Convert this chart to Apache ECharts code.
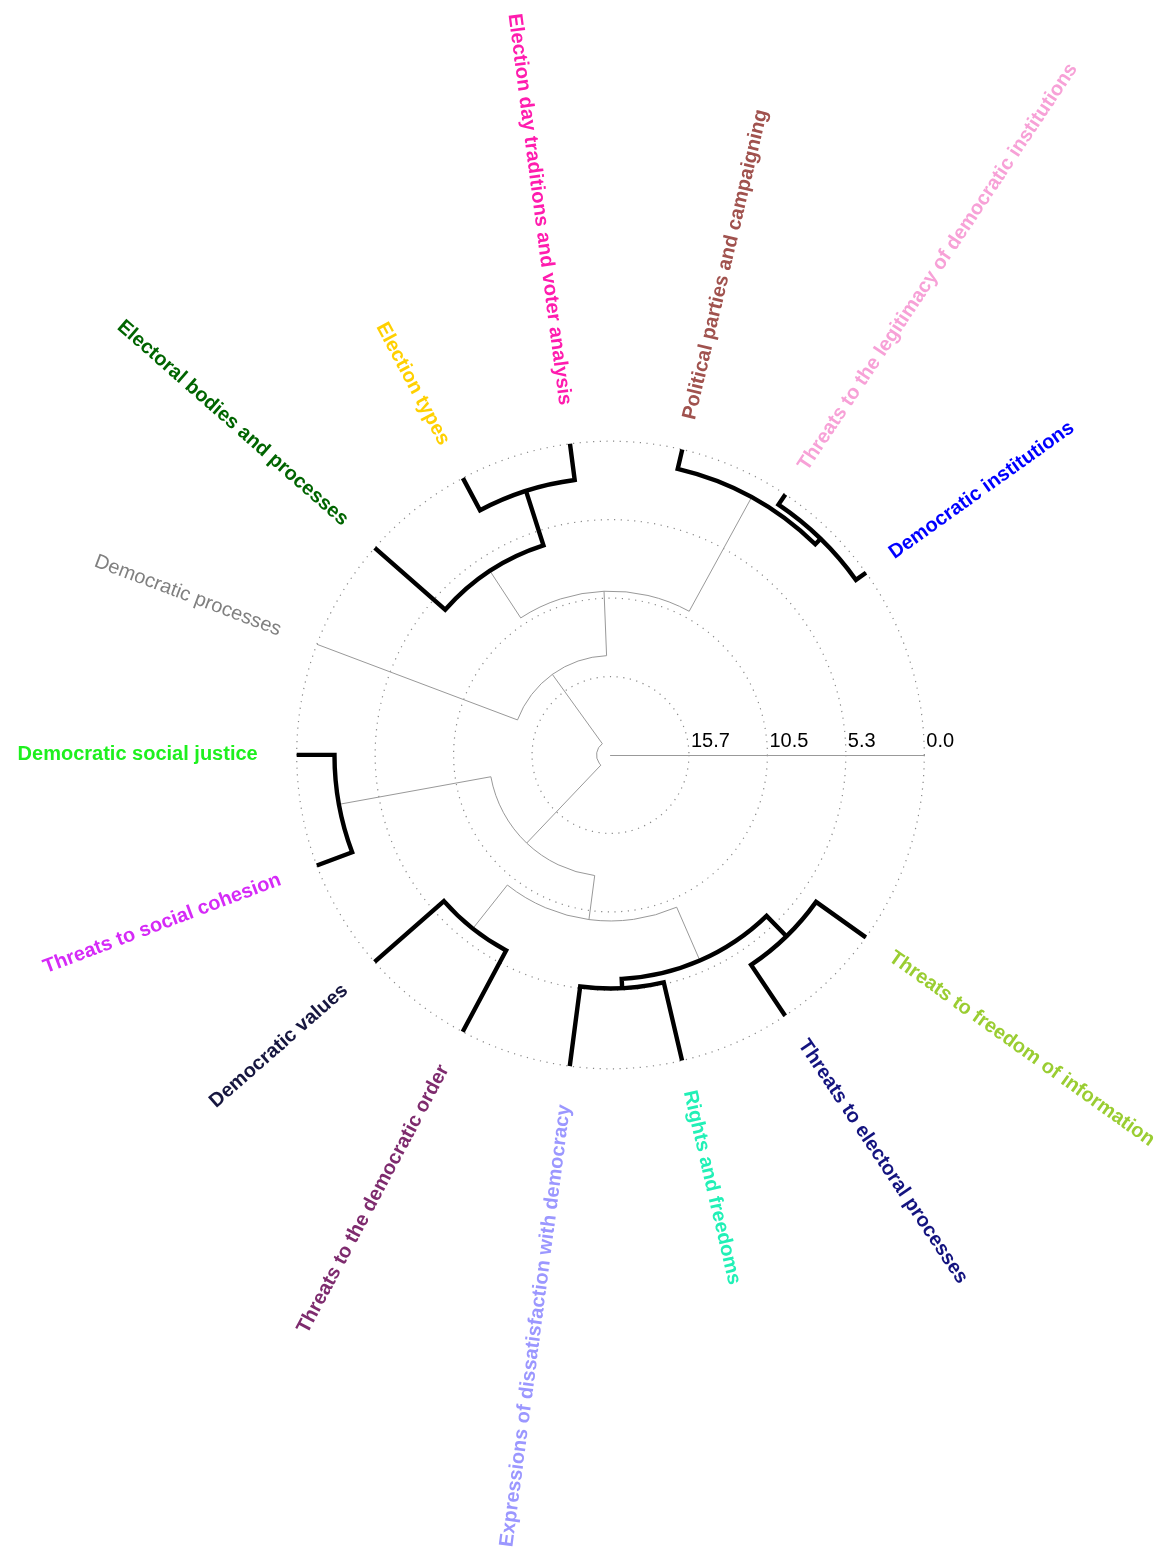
<!DOCTYPE html>
<html>
<head>
<meta charset="utf-8">
<script src="https://cdn.jsdelivr.net/npm/echarts@6/dist/echarts.min.js"></script>
<style>
html,body{margin:0;padding:0;background:#ffffff;}
#chart{width:1164px;height:1553px;}
</style>
</head>
<body>
<div id="chart"></div>
<script>
// ---------------- DATA ----------------
// Leaves in the order they appear around the circle (counter-clockwise from the right)
const leafNames = [
  'Democratic institutions',
  'Threats to the legitimacy of democratic institutions',
  'Political parties and campaigning',
  'Election day traditions and voter analysis',
  'Election types',
  'Electoral bodies and processes',
  'Democratic processes',
  'Democratic social justice',
  'Threats to social cohesion',
  'Democratic values',
  'Threats to the democratic order',
  'Expressions of dissatisfaction with democracy',
  'Rights and freedoms',
  'Threats to electoral processes',
  'Threats to freedom of information'
];
// hclust-style merges: negative = leaf (1-based position), positive = earlier merge row (1-based)
const mergeLeft   = [-1, -3, -4, -8, -14, -12, 6, -10, 3, 8, 2, 4, 11, 13];
const mergeRight  = [-2,  1, -5, -9, -15, -13, 5, -11, -6, 7, 9, 10, -7, 12];
const mergeHeight = [0.82, 1.33, 2.43, 2.52, 4.08, 5.36, 5.98, 6.15, 6.25, 9.86, 10.0, 12.82, 14.30, 20.0];
// radial axis ticks
const tickValues = [0, 5.2325, 10.465, 15.6975];
const tickLabels = ['0.0', '5.3', '10.5', '15.7'];
const clusterCut = 8;

// ---------------- STYLE ----------------
const leafColors = [
  '#0000FF', '#F7A1D7', '#A0524E', '#FF1CAE', '#FFD000',
  '#006400', '#808080', '#1EF01E', '#D52AF7', '#16163F',
  '#7E2B6E', '#9B97FF', '#21F0B6', '#14147F', '#9ACD32'
];
const FONT = '"Liberation Sans", Arial, Helvetica, sans-serif';
const axisMax = 4 * 5.2325;
const firstLeafDeg = 35.5;
const leafStepDeg = 20.64;
const angleMin = -firstLeafDeg / leafStepDeg;
const angleMax = angleMin + 360 / leafStepDeg;

// ---------------- TREE LAYOUT (positions in leaf-index units) ----------------
const nodePos = [];
function childInfo(c) {
  if (c < 0) return { h: 0, pos: -c - 1 };
  return { h: mergeHeight[c - 1], pos: nodePos[c - 1] };
}
for (let k = 0; k < mergeHeight.length; k++) {
  nodePos.push((childInfo(mergeLeft[k]).pos + childInfo(mergeRight[k]).pos) / 2);
}
// leaf -> height of its parent merge (singletons above the cut get plain labels)
const leafParentH = new Array(leafNames.length).fill(0);
for (let k = 0; k < mergeHeight.length; k++) {
  [mergeLeft[k], mergeRight[k]].forEach(c => { if (c < 0) leafParentH[-c - 1] = mergeHeight[k]; });
}

function renderNode(params, api) {
  const k = params.dataIndex;
  const cs = params.coordSys;
  const h = mergeHeight[k];
  let a = childInfo(mergeLeft[k]);
  let b = childInfo(mergeRight[k]);
  if (a.pos > b.pos) { const t = a; a = b; b = t; }
  const p1 = api.coord([a.h, a.pos]);
  const q1 = api.coord([h, a.pos]);
  const q2 = api.coord([h, b.pos]);
  const p2 = api.coord([b.h, b.pos]);
  const r = Math.hypot(q1[0] - cs.cx, q1[1] - cs.cy);
  const t1 = Math.atan2(cs.cy - q1[1], q1[0] - cs.cx);
  const t2 = Math.atan2(cs.cy - q2[1], q2[0] - cs.cx);
  let span = t2 - t1;
  while (span < 0) span += 2 * Math.PI;
  const large = span > Math.PI ? 1 : 0;
  const f = v => v.toFixed(2);
  const d = 'M' + f(p1[0]) + ' ' + f(p1[1]) +
            ' L' + f(q1[0]) + ' ' + f(q1[1]) +
            ' A' + f(r) + ' ' + f(r) + ' 0 ' + large + ' 0 ' + f(q2[0]) + ' ' + f(q2[1]) +
            ' L' + f(p2[0]) + ' ' + f(p2[1]);
  const black = h < clusterCut;
  return {
    type: 'path',
    z2: black ? 10 : 5,
    shape: { pathData: d },
    style: {
      fill: 'none',
      stroke: black ? '#000000' : '#999999',
      lineWidth: black ? 4.4 : 1,
      lineJoin: 'miter',
      lineCap: 'butt'
    }
  };
}

function renderLabel(params, api) {
  const i = params.dataIndex;
  const cs = params.coordSys;
  const p = api.coord([0, i]);
  const dx = p[0] - cs.cx, dy = p[1] - cs.cy;
  const R = Math.hypot(dx, dy);
  const theta = Math.atan2(-dy, dx);
  const right = Math.cos(theta) >= 0;
  const gap = right ? 31 : 39;
  const x = cs.cx + dx / R * (R + gap);
  const y = cs.cy + dy / R * (R + gap);
  let rot = theta;
  if (!right) rot = theta > 0 ? theta - Math.PI : theta + Math.PI;
  const plain = leafParentH[i] >= clusterCut;
  return {
    type: 'text',
    x: x, y: y,
    rotation: rot,
    style: {
      text: leafNames[i],
      fill: leafColors[i],
      fontSize: 20,
      fontFamily: FONT,
      fontWeight: plain ? 'normal' : 'bold',
      align: right ? 'left' : 'right',
      verticalAlign: 'middle'
    }
  };
}

const chart = echarts.init(document.getElementById('chart'), null, { renderer: 'canvas' });
chart.setOption({
  animation: false,
  backgroundColor: '#ffffff',
  polar: { center: [610.5, 755], radius: [0, 313.8] },
  angleAxis: {
    type: 'value', min: angleMin, max: angleMax,
    startAngle: 0, clockwise: false,
    show: false
  },
  radiusAxis: {
    type: 'value', min: 0, max: axisMax, interval: 5.2325, inverse: true,
    axisLine: { show: true, lineStyle: { color: '#999999', width: 1 } },
    axisTick: { show: false },
    splitLine: { show: true, lineStyle: { color: '#888888', width: 1.2, type: [1.2, 5.5] } },
    axisLabel: {
      show: true,
      fontSize: 20,
      fontFamily: FONT,
      color: '#000000',
      align: 'left',
      margin: 4,
      padding: [0, 0, 0, 2],
      formatter: function (v) {
        for (let j = 0; j < tickValues.length; j++) {
          if (Math.abs(v - tickValues[j]) < 0.01) return tickLabels[j];
        }
        return '';
      }
    }
  },
  series: [
    {
      type: 'custom',
      coordinateSystem: 'polar',
      renderItem: renderNode,
      data: mergeHeight.map((h, k) => [h, nodePos[k]]),
      silent: true
    },
    {
      type: 'custom',
      coordinateSystem: 'polar',
      renderItem: renderLabel,
      data: leafNames.map((n, i) => [0, i]),
      silent: true
    }
  ]
});
</script>
</body>
</html>
